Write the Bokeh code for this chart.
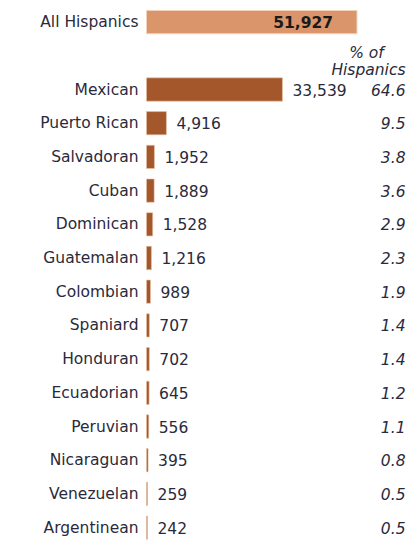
from bokeh.plotting import figure
from bokeh.models import Range1d, ColumnDataSource
from bokeh.embed import file_html
from bokeh.resources import INLINE
from bokeh.core.properties import value

total_label = "All Hispanics"
total_value = 51927
origins = ["Mexican", "Puerto Rican", "Salvadoran", "Cuban", "Dominican",
           "Guatemalan", "Colombian", "Spaniard", "Honduran", "Ecuadorian",
           "Peruvian", "Nicaraguan", "Venezuelan", "Argentinean"]
populations = [33539, 4916, 1952, 1889, 1528, 1216, 989, 707, 702, 645,
               556, 395, 259, 242]
shares = ["64.6", "9.5", "3.8", "3.6", "2.9", "2.3", "1.9", "1.4", "1.4",
          "1.2", "1.1", "0.8", "0.5", "0.5"]

W, H = 417, 542
bar_x0 = 146.0            # pixel where bars start
k = 210.5 / total_value   # pixels per unit
row0 = 89.0               # pixel y of first origin row
step = 33.7               # pixels per row

x_start = -bar_x0 / k
x_end = (W - bar_x0) / k
y_top = -row0 / step
y_bottom = (H - row0) / step

def px(n):
    return n / k

p = figure(width=W, height=H, output_backend="svg", toolbar_location=None,
           x_range=Range1d(x_start, x_end), y_range=Range1d(y_bottom, y_top),
           min_border=0, outline_line_color=None)
p.axis.visible = False
p.grid.visible = False
p.background_fill_color = "white"
p.border_fill_color = "white"

FONT = value("DejaVu Sans")
FS = "15.5px"
TXT = "#2a2a3c"

ys = list(range(len(origins)))
src = ColumnDataSource(dict(y=ys, v=populations, name=origins, share=shares,
                            lab=[f"{v:,}" for v in populations],
                            lx=[v + px(10) for v in populations]))

# total bar
p.hbar(y=[-2], left=[0], right=[total_value], height=0.69,
       fill_color="#DA956A", line_color="#F2D2BC", line_width=1)
p.text(x=[total_value - px(24)], y=[-2], text=[f"{total_value:,}"],
       text_align="right", text_baseline="middle", text_font=FONT,
       text_font_size=FS, text_font_style="bold", text_color="#1a1a1a")
p.text(x=[px(-8)], y=[-2], text=[total_label], text_align="right",
       text_baseline="middle", text_font=FONT, text_font_size=FS, text_color=TXT)

# origin bars
p.hbar(y="y", left=0, right="v", height=0.69, source=src,
       fill_color="#A3572B", line_color="#E8C2A8", line_width=0.6)
p.text(x=px(-8), y="y", text="name", source=src, text_align="right",
       text_baseline="middle", text_font=FONT, text_font_size=FS, text_color=TXT)
p.text(x="lx", y="y", text="lab", source=src, text_align="left",
       text_baseline="middle", text_font=FONT, text_font_size=FS, text_color=TXT)
p.text(x=px(405 - bar_x0), y="y", text="share", source=src, text_align="right",
       text_baseline="middle", text_font=FONT, text_font_size=FS,
       text_font_style="italic", text_color=TXT)

# header
p.text(x=[px(366 - bar_x0)], y=[(52 - row0) / step], text=["% of"], text_align="center",
       text_baseline="middle", text_font=FONT, text_font_size=FS,
       text_font_style="italic", text_color=TXT)
p.text(x=[px(405 - bar_x0)], y=[(69 - row0) / step], text=["Hispanics"], text_align="right",
       text_baseline="middle", text_font=FONT, text_font_size=FS,
       text_font_style="italic", text_color=TXT)

open("out.html", "w").write(file_html(p, INLINE))
